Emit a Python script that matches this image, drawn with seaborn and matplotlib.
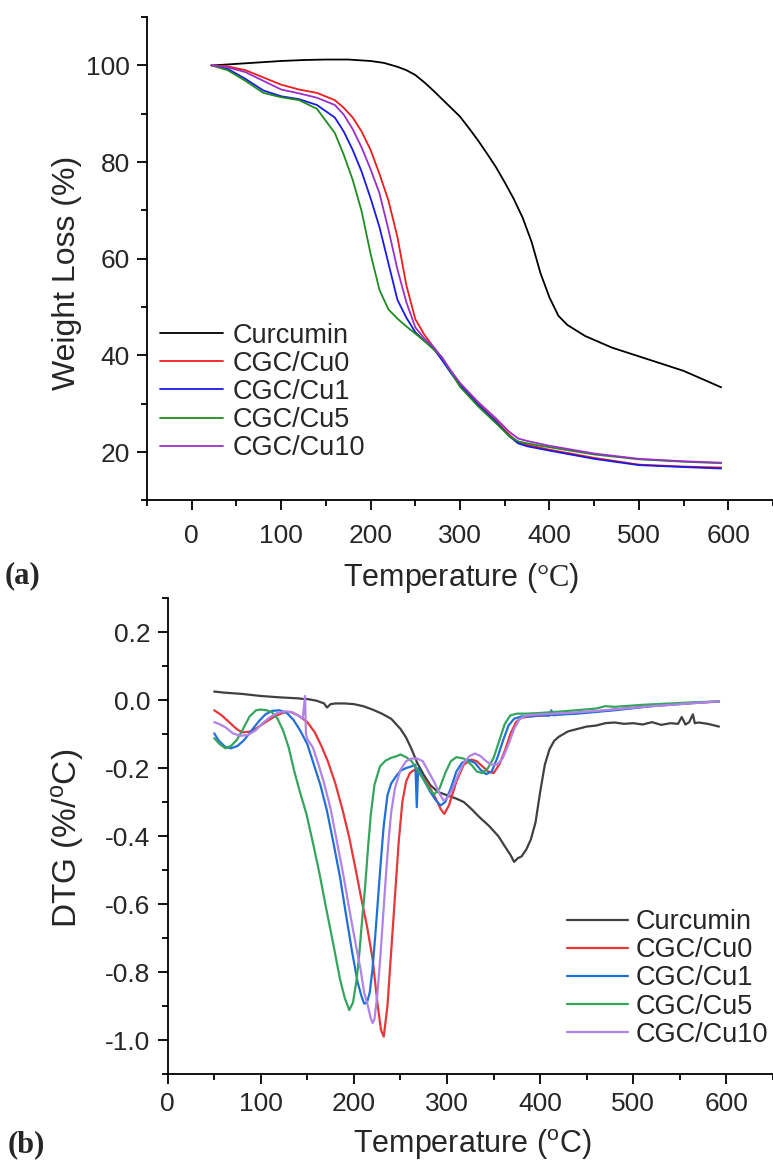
import numpy as np
import matplotlib
matplotlib.use("Agg")
from matplotlib import pyplot as plt
from matplotlib.ticker import MultipleLocator
import seaborn as sns

# ---- TGA data (panel a) ----
tga_t_cur = [25, 50, 75, 100, 125, 150, 175, 200, 215, 230, 240, 250, 260, 270, 280,
             290, 300, 310, 320, 330, 340, 350, 360, 370, 380, 390, 400, 410, 420,
             440, 470, 500, 550, 592]
tga_cur = [100, 100.3, 100.6, 100.9, 101.1, 101.2, 101.2, 100.9, 100.5, 99.7, 99.0,
           98.0, 96.5, 94.8, 93.0, 91.2, 89.4, 87.0, 84.5, 81.8, 79.0, 75.8, 72.4,
           68.5, 63.5, 57.0, 52.0, 48.2, 46.3, 44.0, 41.6, 39.8, 36.8, 33.4]

tga_t = [22, 40, 60, 80, 100, 120, 140, 160, 170, 180, 190, 200, 210, 220, 230, 240,
         250, 260, 270, 280, 290, 300, 320, 340, 355, 365, 375, 400, 450, 500, 550, 592]
tga_cu0 = [100, 99.8, 99.0, 97.5, 96.0, 95.0, 94.3, 92.8, 91.2, 89.2, 86.3, 82.5,
           77.5, 72.0, 64.5, 54.5, 47.5, 44.3, 41.8, 39.3, 36.5, 34.0, 30.0, 26.5,
           23.6, 22.0, 21.5, 20.5, 18.8, 17.4, 17.0, 16.8]
tga_cu1 = [100, 99.3, 97.2, 94.8, 93.6, 93.0, 91.8, 89.2, 86.3, 82.5, 78.0, 72.5,
           66.5, 59.0, 51.5, 47.8, 44.8, 43.0, 41.5, 39.0, 36.3, 33.8, 29.8, 26.3,
           23.3, 21.8, 21.2, 20.3, 18.6, 17.3, 16.9, 16.6]
tga_cu5 = [100, 99.0, 96.8, 94.3, 93.4, 92.8, 91.0, 86.0, 81.5, 76.3, 69.8, 61.0,
           53.5, 49.5, 47.6, 46.0, 44.5, 43.0, 41.3, 39.6, 36.5, 33.5, 29.5, 26.0,
           23.3, 22.2, 21.8, 21.0, 19.5, 18.5, 18.0, 17.7]
tga_cu10 = [100, 99.6, 98.6, 96.8, 95.0, 94.2, 93.3, 91.8, 89.8, 86.8, 83.0, 78.5,
            73.5, 66.0, 57.8, 51.0, 45.8, 43.5, 41.8, 39.5, 36.8, 34.3, 30.4, 27.0,
            24.2, 22.8, 22.3, 21.3, 19.7, 18.6, 18.1, 17.8]

# ---- DTG data (panel b) ----
dtg_t_cur = [50, 60, 80, 100, 120, 140, 146, 150, 160, 168, 171, 175, 180, 190, 200,
             210, 220, 230, 240, 250, 256, 262, 268, 275, 282, 290, 300, 310, 318, 326,
             335, 345, 355, 362, 368, 372, 376, 380, 385, 390, 395, 400, 405, 410, 415,
             420, 430, 440, 450, 460, 470, 480, 490, 500, 510, 520, 530, 540, 548, 552,
             556, 560, 564, 566, 570, 580, 592]
dtg_cur = [0.025, 0.022, 0.018, 0.012, 0.008, 0.005, 0.003, 0.003, -0.002, -0.010,
           -0.022, -0.012, -0.010, -0.010, -0.012, -0.018, -0.028, -0.040, -0.055,
           -0.085, -0.11, -0.145, -0.185, -0.22, -0.25, -0.27, -0.28, -0.29, -0.30,
           -0.32, -0.345, -0.37, -0.40, -0.43, -0.455, -0.476, -0.465, -0.46, -0.44,
           -0.41, -0.36, -0.27, -0.19, -0.145, -0.12, -0.108, -0.092, -0.085, -0.078,
           -0.075, -0.068, -0.066, -0.07, -0.068, -0.072, -0.065, -0.073, -0.068,
           -0.07, -0.05, -0.072, -0.065, -0.042, -0.068, -0.066, -0.07, -0.078]

dtg_t_cu0 = [50, 58, 66, 74, 80, 88, 96, 105, 115, 125, 132, 140, 150, 158, 165, 172,
             180, 188, 195, 202, 208, 214, 220, 225, 229, 232, 236, 240, 244, 248, 252,
             256, 260, 265, 272, 280, 288, 293, 297, 302, 310, 318, 326, 332, 338, 344,
             350, 356, 362, 368, 374, 380, 390, 400, 420, 450, 480, 510, 540, 570, 592]
dtg_cu0 = [-0.03, -0.045, -0.065, -0.085, -0.095, -0.093, -0.082, -0.065, -0.048,
           -0.036, -0.035, -0.045, -0.065, -0.095, -0.135, -0.18, -0.245, -0.325,
           -0.405, -0.50, -0.585, -0.665, -0.76, -0.885, -0.97, -0.99, -0.90, -0.74,
           -0.58, -0.42, -0.30, -0.24, -0.215, -0.205, -0.22, -0.25, -0.29, -0.32,
           -0.335, -0.31, -0.24, -0.19, -0.175, -0.18, -0.195, -0.21, -0.215, -0.19,
           -0.15, -0.1, -0.065, -0.052, -0.048, -0.046, -0.042, -0.036, -0.028, -0.02,
           -0.012, -0.007, -0.005]

dtg_t_cu1 = [50, 55, 62, 68, 75, 82, 90, 98, 105, 112, 120, 128, 135, 142, 150, 157,
             164, 171, 178, 185, 192, 198, 204, 208, 211, 214, 217, 220, 223, 226, 229,
             232, 236, 240, 245, 250, 256, 262, 266, 267.5, 269, 275, 282, 288, 293,
             298, 304, 310, 316, 322, 330, 336, 342, 348, 354, 360, 366, 372, 380, 390,
             400, 410, 412, 414, 420, 440, 460, 480, 500, 520, 550, 580, 592]
dtg_cu1 = [-0.098, -0.12, -0.138, -0.142, -0.135, -0.118, -0.09, -0.062, -0.042,
           -0.032, -0.03, -0.038, -0.058, -0.088, -0.13, -0.19, -0.25, -0.325, -0.42,
           -0.52, -0.64, -0.74, -0.83, -0.87, -0.893, -0.89, -0.86, -0.79, -0.69,
           -0.58, -0.47, -0.37, -0.28, -0.245, -0.225, -0.208, -0.20, -0.195, -0.19,
           -0.315, -0.2, -0.235, -0.27, -0.295, -0.31, -0.30, -0.26, -0.21, -0.185,
           -0.175, -0.185, -0.205, -0.218, -0.21, -0.17, -0.12, -0.075, -0.055, -0.048,
           -0.048, -0.045, -0.046, -0.03, -0.045, -0.043, -0.04, -0.035, -0.03, -0.024,
           -0.018, -0.012, -0.006, -0.004]

dtg_t_cu5 = [50, 56, 62, 68, 74, 80, 88, 95, 100, 106, 112, 118, 124, 130, 136, 142,
             149, 156, 163, 170, 178, 185, 190, 195, 199, 203, 206, 209, 212, 215, 218,
             222, 228, 234, 240, 246, 250, 256, 262, 268, 275, 282, 286, 292, 298, 304,
             310, 318, 326, 332, 338, 344, 350, 356, 362, 368, 375, 385, 400, 430, 460,
             470, 480, 510, 540, 570, 592]
dtg_cu5 = [-0.112, -0.13, -0.142, -0.135, -0.118, -0.09, -0.048, -0.03, -0.028, -0.03,
           -0.036, -0.055, -0.09, -0.14, -0.21, -0.27, -0.335, -0.42, -0.51, -0.61,
           -0.72, -0.82, -0.875, -0.912, -0.89, -0.82, -0.74, -0.64, -0.55, -0.44,
           -0.34, -0.25, -0.195, -0.178, -0.17, -0.165, -0.16, -0.168, -0.18, -0.205,
           -0.235, -0.265, -0.278, -0.26, -0.215, -0.18, -0.168, -0.172, -0.19, -0.21,
           -0.215, -0.2, -0.17, -0.12, -0.07, -0.045, -0.04, -0.04, -0.038, -0.032,
           -0.025, -0.018, -0.02, -0.014, -0.01, -0.006, -0.004]

dtg_t_cu10 = [50, 55, 62, 70, 78, 86, 94, 102, 110, 118, 126, 134, 140, 145, 147.5,
              148.5, 150, 156, 162, 168, 175, 182, 189, 196, 202, 207, 211, 215, 218,
              220, 222, 225, 228, 231, 234, 237, 240, 244, 250, 256, 262, 268, 274, 280,
              286, 292, 296, 300, 306, 312, 318, 324, 330, 336, 342, 348, 354, 360, 366,
              372, 378, 386, 400, 430, 460, 490, 520, 550, 580, 592]
dtg_cu10 = [-0.065, -0.07, -0.08, -0.098, -0.105, -0.103, -0.09, -0.068, -0.05, -0.038,
            -0.033, -0.036, -0.045, -0.055, 0.012, -0.1, -0.115, -0.14, -0.19, -0.245,
            -0.32, -0.42, -0.52, -0.63, -0.72, -0.79, -0.86, -0.9, -0.935, -0.95,
            -0.94, -0.87, -0.77, -0.65, -0.53, -0.42, -0.33, -0.26, -0.205, -0.18,
            -0.172, -0.172, -0.18, -0.21, -0.24, -0.275, -0.295, -0.29, -0.26, -0.22,
            -0.185, -0.165, -0.157, -0.165, -0.18, -0.19, -0.19, -0.17, -0.13, -0.085,
            -0.055, -0.045, -0.042, -0.038, -0.032, -0.025, -0.018, -0.012, -0.006,
            -0.004]

names = ["Curcumin", "CGC/Cu0", "CGC/Cu1", "CGC/Cu5", "CGC/Cu10"]
colors_a = ["#000000", "#f01c1c", "#1a1ae6", "#1f8c1f", "#9a2fc9"]
colors_b = ["#404040", "#e8363a", "#2170d8", "#35a55e", "#b283e6"]

tga = [(tga_t_cur, tga_cur), (tga_t, tga_cu0), (tga_t, tga_cu1),
       (tga_t, tga_cu5), (tga_t, tga_cu10)]
dtg = [(dtg_t_cur, dtg_cur), (dtg_t_cu0, dtg_cu0), (dtg_t_cu1, dtg_cu1),
       (dtg_t_cu5, dtg_cu5), (dtg_t_cu10, dtg_cu10)]

sns.set_style("ticks")
plt.rcParams.update({
    "font.family": ["Liberation Sans", "DejaVu Sans"],
    "axes.unicode_minus": False,
    "mathtext.fontset": "custom",
    "mathtext.rm": "Liberation Serif",
    "axes.linewidth": 1.3,
})

fig = plt.figure(figsize=(7.73, 11.64), dpi=100)
ax_a = fig.add_axes([0.1902, 0.5701, 0.8098, 0.4153])
ax_b = fig.add_axes([0.2169, 0.0773, 0.7831, 0.4089])


def style_axes(ax, ymajor, yminor, xpad):
    sns.despine(ax=ax)
    ax.xaxis.set_major_locator(MultipleLocator(100))
    ax.xaxis.set_minor_locator(MultipleLocator(50))
    ax.yaxis.set_major_locator(MultipleLocator(ymajor))
    ax.yaxis.set_minor_locator(MultipleLocator(yminor))
    ax.tick_params(which="major", direction="out", length=7, width=1.3,
                   labelsize=19, color="black")
    ax.tick_params(which="minor", direction="out", length=4, width=1.3, color="black")
    ax.tick_params(axis="y", which="major", pad=5.5)
    ax.tick_params(axis="x", which="major", pad=xpad)
    for s in ax.spines.values():
        s.set_color("black")
    ax.grid(False)


# panel (a)
for (t, v), name, c in zip(tga, names, colors_a):
    sns.lineplot(x=t, y=v, ax=ax_a, color=c, label=name, linewidth=1.3,
                 estimator=None)
ax_a.set_xlim(-50, 650)
ax_a.set_ylim(10, 110)
style_axes(ax_a, 20, 10, 10)
ax_a.yaxis.set_major_formatter(matplotlib.ticker.FormatStrFormatter("%d"))
ax_a.set_xlabel(r"Temperature ($\mathrm{°C}$)", fontsize=22)
ax_a.set_ylabel("Weight Loss (%)", fontsize=23)
ax_a.xaxis.set_label_coords(0.502, -0.1605)
ax_a.yaxis.set_label_coords(-0.128, 0.471)
ax_a.xaxis.label.set(va="center")
ax_a.yaxis.label.set(va="center")
ax_a.legend(loc="upper left", bbox_to_anchor=(0.0208, 0.368), frameon=False,
            fontsize=19.5, borderpad=0, borderaxespad=0, labelspacing=0.08,
            handlelength=2.33, handletextpad=0.36)

# panel (b)
for (t, v), name, c in zip(dtg, names, colors_b):
    sns.lineplot(x=t, y=v, ax=ax_b, color=c, label=name, linewidth=1.6,
                 estimator=None)
ax_b.set_xlim(0, 650)
ax_b.set_ylim(-1.1, 0.3)
style_axes(ax_b, 0.2, 0.1, 6)
ax_b.yaxis.set_major_formatter(matplotlib.ticker.FormatStrFormatter("%.1f"))
ax_b.set_xlabel(r"Temperature ($\mathregular{^o}$C)", fontsize=22)
ax_b.set_ylabel(r"DTG (%/$\mathregular{^o}$C)", fontsize=24)
ax_b.xaxis.set_label_coords(0.504, -0.149)
ax_b.yaxis.set_label_coords(-0.166, 0.496)
ax_b.xaxis.label.set(va="center")
ax_b.yaxis.label.set(va="center")
ax_b.legend(loc="upper left", bbox_to_anchor=(0.659, 0.3466), frameon=False,
            fontsize=19.5, borderpad=0, borderaxespad=0, labelspacing=0.08,
            handlelength=2.25, handletextpad=0.31)

fig.text(0.006, 0.505, "(a)", fontsize=22, fontweight="bold",
         family="Liberation Serif", ha="left", va="center")
fig.text(0.010, 0.0163, "(b)", fontsize=22, fontweight="bold",
         family="Liberation Serif", ha="left", va="center")

fig.savefig("out.png", dpi=100)
